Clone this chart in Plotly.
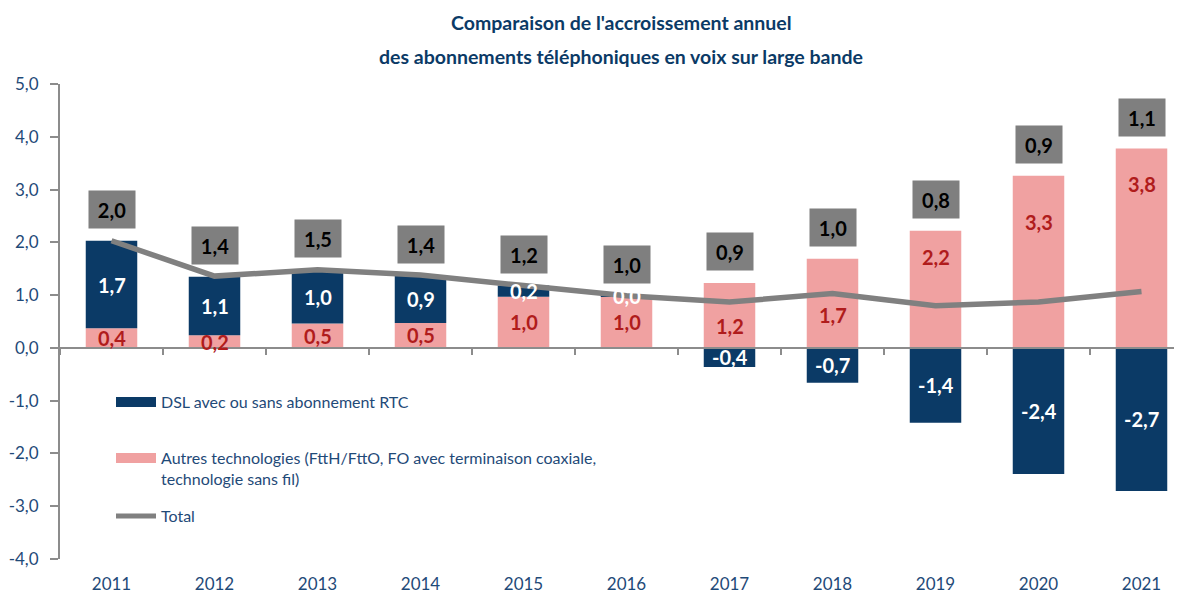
import plotly.graph_objects as go

years = ["2011", "2012", "2013", "2014", "2015", "2016", "2017", "2018", "2019", "2020", "2021"]
dsl = [1.66, 1.11, 1.02, 0.91, 0.21, 0.02, -0.36, -0.66, -1.42, -2.39, -2.71]
autres = [0.37, 0.24, 0.46, 0.47, 0.97, 0.97, 1.23, 1.69, 2.22, 3.26, 3.78]
total = [2.03, 1.36, 1.48, 1.38, 1.18, 0.99, 0.87, 1.03, 0.80, 0.87, 1.07]
y_ticks = [5, 4, 3, 2, 1, 0, -1, -2, -3, -4]

title_lines = ["Comparaison de l'accroissement annuel",
               "des abonnements téléphoniques en voix sur large bande"]
name_dsl = "DSL avec ou sans abonnement RTC"
name_autres = "Autres technologies (FttH/FttO, FO avec terminaison coaxiale,<br>technologie sans fil)"
name_total = "Total"

# style constants (label placement inside the pink bars, as fraction of bar height)
pink_label_pos = [0.5, 0.5, 0.5, 0.5, 0.5, 0.5, 0.33, 0.37, 0.78, 0.73, 0.82]

NAVY = "#0B3A66"
PINK = "#F0A1A1"
DARKRED = "#B01C1C"
GREY = "#808080"
TXT = "#1F4A78"
FONT = "Lato"

# page geometry (page has an 8px body margin)
OFF = 8
PW, PH = 1182, 597
PLOT_L, PLOT_R, PLOT_T, PLOT_B = 60, 1182, 84, 559
W, H = PW - OFF, PH - OFF
ph = PLOT_B - PLOT_T


def pap_y(page_y):
    return (PLOT_B - page_y) / ph


def fmt(v):
    return f"{v:.1f}".replace(".", ",")


fig = go.Figure()
fig.add_trace(go.Bar(x=years, y=autres, marker=dict(color=PINK, line=dict(width=0)),
                     width=0.5, showlegend=False, name="Autres", hoverinfo="skip"))
fig.add_trace(go.Bar(x=years, y=dsl, marker=dict(color=NAVY, line=dict(width=0)),
                     width=0.5, showlegend=False, name="DSL", hoverinfo="skip"))
fig.add_trace(go.Scatter(x=years, y=total, mode="lines", xaxis="x2", yaxis="y",
                         line=dict(color=GREY, width=5.5), showlegend=False, name="Total"))

# legend entries
fig.add_trace(go.Scatter(x=[None], y=[None], mode="lines", name=name_dsl,
                         line=dict(color=NAVY, width=10), legend="legend"))
fig.add_trace(go.Scatter(x=[None], y=[None], mode="lines", name=name_autres,
                         line=dict(color=PINK, width=10), legend="legend2"))
fig.add_trace(go.Scatter(x=[None], y=[None], mode="lines", name=name_total,
                         line=dict(color=GREY, width=5), legend="legend3"))

annotations = []
for i, yr in enumerate(years):
    pos_top = autres[i] + max(dsl[i], 0)
    annotations.append(dict(x=i, y=max(total[i], pos_top), xref="x", yref="y",
                            text="<b>" + fmt(total[i]) + "</b>", showarrow=False,
                            yshift=31, width=44, height=35, bgcolor="#7F7F7F",
                            font=dict(family=FONT, size=20, color="black")))
    yc = autres[i] + dsl[i] / 2 if dsl[i] >= 0 else dsl[i] / 2
    annotations.append(dict(x=i, y=yc, xref="x", yref="y", text="<b>" + fmt(dsl[i]) + "</b>",
                            showarrow=False, font=dict(family=FONT, size=20, color="white")))
    annotations.append(dict(x=i, y=autres[i] * pink_label_pos[i], xref="x", yref="y",
                            text="<b>" + fmt(autres[i]) + "</b>", showarrow=False,
                            font=dict(family=FONT, size=20, color=DARKRED)))

annotations.append(dict(x=0.5, y=pap_y(23), xref="paper", yref="paper", yanchor="middle",
                        text="<b>" + title_lines[0] + "</b>", showarrow=False,
                        font=dict(family=FONT, size=19.5, color=NAVY)))
annotations.append(dict(x=0.5, y=pap_y(56), xref="paper", yref="paper", yanchor="middle",
                        text="<b>" + title_lines[1] + "</b>", showarrow=False,
                        font=dict(family=FONT, size=19.5, color=NAVY)))

x_range = [-0.5, -0.5 + (PLOT_R - PLOT_L) / 103.0]
leg_x = (111 - PLOT_L) / (PLOT_R - PLOT_L)
leg_common = dict(x=leg_x, xanchor="left", yanchor="top", bgcolor="rgba(0,0,0,0)",
                  font=dict(family=FONT, size=16, color=TXT), valign="top", itemwidth=40)

fig.update_layout(
    width=W, height=H,
    margin=dict(l=PLOT_L - OFF, r=W - (PLOT_R - OFF), t=PLOT_T - OFF, b=H - (PLOT_B - OFF)),
    paper_bgcolor="white", plot_bgcolor="white",
    barmode="relative",
    separators=", ",
    font=dict(family=FONT, size=16, color=TXT),
    annotations=annotations,
    legend=dict(y=pap_y(402 - 17), **leg_common),
    legend2=dict(y=pap_y(458 - 17), **leg_common),
    legend3=dict(y=pap_y(516 - 17), **leg_common),
    xaxis=dict(type="category", categoryorder="array", categoryarray=years, range=x_range,
               showline=False, showgrid=False, zeroline=False, ticks="",
               tickfont=dict(family=FONT, size=17, color=TXT), ticklabelstandoff=13),
    xaxis2=dict(type="category", categoryorder="array", categoryarray=years, range=x_range,
                overlaying="x", anchor="free", position=4 / 9, showline=True,
                linecolor="#8C8C8C", linewidth=2, ticks="outside", tickson="boundaries",
                ticklen=6, tickwidth=2, tickcolor="#8C8C8C", showticklabels=False,
                showgrid=False, zeroline=False),
    yaxis=dict(range=[-4, 5], tickvals=y_ticks, ticktext=[fmt(v) for v in y_ticks],
               showgrid=False, zeroline=False,
               showline=True, linecolor="#8C8C8C", linewidth=2, ticks="outside", ticklen=8,
               tickwidth=2, tickcolor="#8C8C8C", ticklabelstandoff=8,
               tickfont=dict(family=FONT, size=17, color=TXT)),
)

fig.write_html("out.html")
